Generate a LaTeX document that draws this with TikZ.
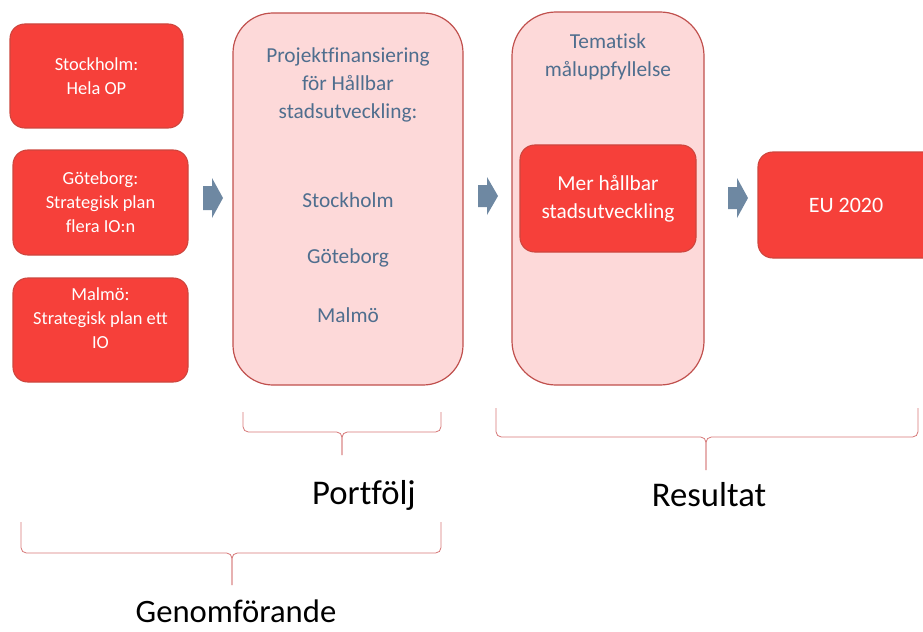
\documentclass[tikz,border=0pt]{standalone}
\usepackage{fontspec}
\setmainfont{Carlito}[Ligatures={NoCommon}]
\definecolor{redfill}{RGB}{246,64,58}
\definecolor{redline}{RGB}{205,70,62}
\definecolor{pinkfill}{RGB}{253,217,217}
\definecolor{pinkline}{RGB}{192,80,77}
\definecolor{bluetext}{RGB}{79,110,142}
\definecolor{arrowfill}{RGB}{110,136,162}
\definecolor{bracecol}{RGB}{214,120,120}
\begin{document}
\begin{tikzpicture}[x=0.75pt,y=-0.75pt,
  redbox/.style={draw=redline,line width=0.8pt,fill=redfill,rounded corners=11pt},
  pinkbox/.style={draw=pinkline,line width=0.9pt,fill=pinkfill,rounded corners=30pt},
  wtext/.style={text=white,align=center,font=\fontsize{13.8}{18}\selectfont},
  btext/.style={text=bluetext,align=center,font=\fontsize{16}{21}\selectfont},
  bigtext/.style={text=black,inner sep=0pt,font=\fontsize{26}{30}\selectfont},
  blockarrow/.style={fill=arrowfill,draw=none},
  bracestyle/.style={draw=bracecol,line width=0.6pt,rounded corners=4pt}]
\useasboundingbox (0,0) rectangle (923,631);
\begin{scope}
\clip (0,0) rectangle (923,631);
% left red boxes
\draw[redbox] (10,24) rectangle (183,128);
\node[wtext] (sthlm) at (96.5,76) {Stockholm:\\Hela OP};
\draw[redbox] (13,150) rectangle (188,255);
\node[wtext] (gbg) at (100.5,202) {Göteborg:\\Strategisk plan\\flera IO:n};
\draw[redbox] (13,278) rectangle (188,382);
\node[wtext] (mlm) at (100.5,318) {Malmö:\\Strategisk plan ett\\IO};
% arrow 1
\fill[blockarrow] (203,186) -- (212,186) -- (212,178) -- (223,198) -- (212,218) -- (212,210) -- (203,210) -- cycle;
% portfolio box
\draw[pinkbox] (233,13) rectangle (463,385);
\node[btext] (ptitle) at (348,85) {Projektfinansiering\\för Hållbar\\stadsutveckling:};
\node[btext] (ps) at (348,200) {Stockholm};
\node[btext] (pg) at (348,258) {Göteborg};
\node[btext] (pm) at (348,315) {Malmö};
% arrow 2
\fill[blockarrow] (478,185) -- (487,185) -- (487,177) -- (498,196) -- (487,215) -- (487,207) -- (478,207) -- cycle;
% result box
\draw[pinkbox,rounded corners=33pt] (512,12) rectangle (704,385);
\node[btext] (tema) at (608,57) {Tematisk\\måluppfyllelse};
\draw[redbox] (520,145) rectangle (696,252);
\node[wtext,font=\fontsize{16}{21}\selectfont] (mer) at (608,199) {Mer hållbar\\stadsutveckling};
% arrow 3
\fill[blockarrow] (728,187) -- (737,187) -- (737,178) -- (748,198) -- (737,218) -- (737,209) -- (728,209) -- cycle;
% EU box
\draw[redbox] (758,152) rectangle (945,258);
\node[wtext,font=\fontsize{16.5}{21}\selectfont] (eu) at (846,205) {EU 2020};
\end{scope}
% braces
\coordinate (pb1) at (243,412); \coordinate (pb2) at (441,412); \coordinate (pbt) at (342,455);
\draw[bracestyle] (pb1) -- (243,432) -- (342,432) -- (pbt);
\draw[bracestyle] (pb2) -- (441,432) -- (342,432) -- (pbt);
\coordinate (rb1) at (496,408); \coordinate (rb2) at (918,408); \coordinate (rbt) at (706,470);
\draw[bracestyle] (rb1) -- (496,437) -- (706,437) -- (rbt);
\draw[bracestyle] (rb2) -- (918,437) -- (706,437) -- (rbt);
\coordinate (gb1) at (21,522); \coordinate (gb2) at (441,522); \coordinate (gbt) at (232,585);
\draw[bracestyle] (gb1) -- (21,553) -- (232,553) -- (gbt);
\draw[bracestyle] (gb2) -- (441,553) -- (232,553) -- (gbt);
% labels
\node[bigtext] (port) at (364,495) {Portfölj};
\node[bigtext] (res) at (709,495) {Resultat};
\node[bigtext,font=\fontsize{24.5}{30}\selectfont] (gen) at (236,611) {Genomförande};
\end{tikzpicture}
\end{document}
